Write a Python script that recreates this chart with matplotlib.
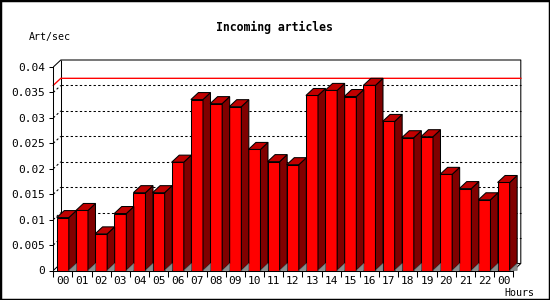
import matplotlib
matplotlib.use("Agg")
import matplotlib.pyplot as plt
from matplotlib.patches import Polygon, Rectangle
import numpy as np

# ---- data ----
hours = ["00", "01", "02", "03", "04", "05", "06", "07", "08", "09", "10", "11",
         "12", "13", "14", "15", "16", "17", "18", "19", "20", "21", "22", "00"]
art_per_sec = [0.0104, 0.0118, 0.0072, 0.0112, 0.0153, 0.0153, 0.0213, 0.0336,
               0.0328, 0.0322, 0.0238, 0.0214, 0.0208, 0.0344, 0.0354, 0.0342,
               0.0364, 0.0293, 0.0261, 0.0263, 0.0189, 0.0161, 0.0139, 0.0173]
y_ticks = [0, 0.005, 0.01, 0.015, 0.02, 0.025, 0.03, 0.035, 0.04]
y_tick_labels = ["0", "0.005", "0.01", "0.015", "0.02", "0.025", "0.03", "0.035", "0.04"]
title = "Incoming articles"
y_title = "Art/sec"
x_title = "Hours"

W, H = 550, 300
fig = plt.figure(figsize=(W / 100, H / 100), dpi=100)
left_px, right_px = 53.3, 513.3
bot_px, top_px = 270.5, 67.0
ax = fig.add_axes([left_px / W, 1 - bot_px / H, (right_px - left_px) / W, (bot_px - top_px) / H])
n = len(art_per_sec)
ymax = 0.04
ax.set_xlim(0, n)
ax.set_ylim(0, ymax)
ax.set_facecolor("none")

px_x = (right_px - left_px) / n
px_y = (bot_px - top_px) / ymax
dx = 7.5 / px_x
dy = 7.0 / px_y
lw = 0.75

# back plane frame
k = dict(color="black", lw=lw, clip_on=False, zorder=1, solid_capstyle="butt")
ax.plot([0, dx, n + dx, n + dx, n], [ymax, ymax + dy, ymax + dy, dy, 0], **k)
ax.plot([dx, dx], [dy, ymax + dy], **k)
ax.plot([0, dx, n + dx], [0, dy, dy], **k)

# grid lines on back plane
for v in y_ticks[1:-1]:
    ax.plot([dx, n + dx], [v + dy, v + dy], color="black", lw=lw, ls=(0, (2.2, 2.2)),
            clip_on=False, zorder=1.2)
    ax.plot([0, dx], [v, v + dy], color="black", lw=lw, ls=(0, (2.2, 2.2)),
            clip_on=False, zorder=1.2)

# max line
m = max(art_per_sec)
ax.plot([0, dx, n + dx], [m, m + dy, m + dy], color="red", lw=lw * 1.3, clip_on=False, zorder=1.5)

# bars
off, bw = 0.18, 0.63
xs = np.arange(n) + off
ax.bar(xs, art_per_sec, width=bw, align="edge", color="#ff0000", edgecolor="black",
       linewidth=lw, zorder=3)
for x0, v in zip(xs, art_per_sec):
    xr = x0 + bw
    side = Polygon([(xr, 0), (xr, v), (xr + dx, v + dy), (xr + dx, dy)], closed=True,
                   facecolor="#800000", edgecolor="black", lw=lw, zorder=3, clip_on=False)
    top = Polygon([(x0, v), (x0 + dx, v + dy), (xr + dx, v + dy), (xr, v)], closed=True,
                  facecolor="#c00000", edgecolor="black", lw=lw, zorder=3, clip_on=False)
    shade = Polygon([(xr, 0), (xr + dx, dy), (xr + dx, 0)], closed=True,
                    facecolor="#8c8c8c", edgecolor="#707070", lw=0.4, zorder=3, clip_on=False)
    ax.add_patch(side)
    ax.add_patch(top)
    ax.add_patch(shade)

# axes
for s in ["top", "right"]:
    ax.spines[s].set_visible(False)
for s in ["left", "bottom"]:
    ax.spines[s].set_linewidth(lw)
    ax.spines[s].set_zorder(4)

mono = "DejaVu Sans Mono"
ax.set_yticks(y_ticks)
ax.set_yticklabels(y_tick_labels, fontfamily=mono, fontsize=8)
ax.tick_params(axis="y", direction="out", length=3, width=lw, pad=3)

ax.set_xticks(np.arange(n + 1))
ax.set_xticklabels([])
ax.tick_params(axis="x", which="major", direction="out", length=4.3, width=lw)
ax.set_xticks(np.arange(n) + 0.5, minor=True)
ax.set_xticklabels(hours, minor=True, fontfamily=mono, fontsize=8)
ax.tick_params(axis="x", which="minor", length=0, pad=4)

fig.text(274 / W, 1 - 27 / H, title, ha="center", va="center", fontfamily=mono,
         fontweight="bold", fontsize=8.3)
fig.text(50 / W, 1 - 37 / H, y_title, ha="center", va="center", fontfamily=mono, fontsize=7.2)
fig.text(519 / W, 1 - 292.5 / H, x_title, ha="center", va="center", fontfamily=mono, fontsize=7.2)

fig.patches.append(Rectangle((0, 0), 1, 1, transform=fig.transFigure, fill=False,
                             edgecolor="black", lw=2.5, zorder=10))
fig.savefig("out.png", dpi=100)
